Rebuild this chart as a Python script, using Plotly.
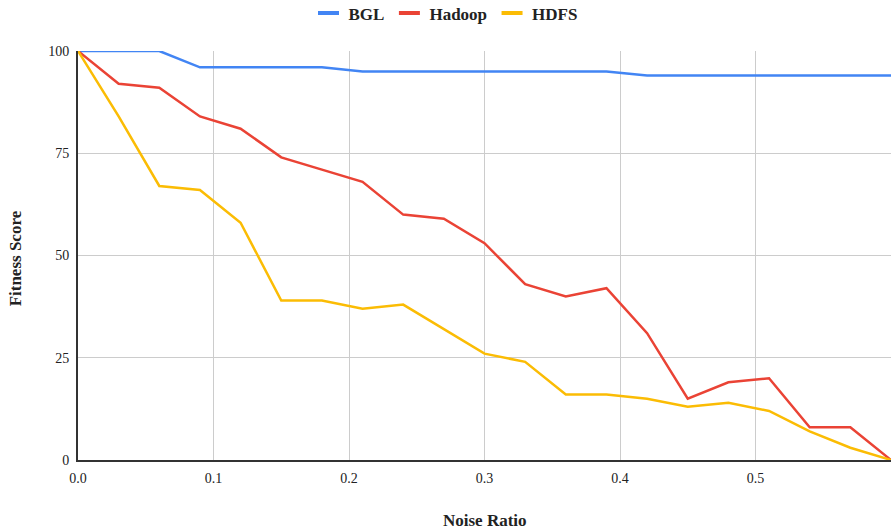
import plotly.graph_objects as go

noise_ratio = [0.0, 0.03, 0.06, 0.09, 0.12, 0.15, 0.18, 0.21, 0.24, 0.27, 0.30,
               0.33, 0.36, 0.39, 0.42, 0.45, 0.48, 0.51, 0.54, 0.57, 0.60]
bgl = [100, 100, 100, 96, 96, 96, 96, 95, 95, 95, 95, 95, 95, 95, 94, 94, 94, 94, 94, 94, 94]
hadoop = [100, 92, 91, 84, 81, 74, 71, 68, 60, 59, 53, 43, 40, 42, 31, 15, 19, 20, 8, 8, 0]
hdfs = [100, 84, 67, 66, 58, 39, 39, 37, 38, 32, 26, 24, 16, 16, 15, 13, 14, 12, 7, 3, 0]

series_names = ["BGL", "Hadoop", "HDFS"]
colors = ["#4285F4", "#EA4335", "#FBBC04"]
x_ticks = [0.0, 0.1, 0.2, 0.3, 0.4, 0.5]
x_tick_labels = ["0.0", "0.1", "0.2", "0.3", "0.4", "0.5"]
y_ticks = [0, 25, 50, 75, 100]

font = "Liberation Serif"
fig = go.Figure()
for name, vals, c in zip(series_names, [bgl, hadoop, hdfs], colors):
    fig.add_trace(go.Scatter(x=noise_ratio, y=vals, mode="lines", name=name,
                             line=dict(color=c, width=2.5), showlegend=False))
# legend entries drawn as short thick bars like the reference
for name, c in zip(series_names, colors):
    fig.add_trace(go.Scatter(x=[None], y=[None], mode="markers", name=name,
                             marker=dict(symbol="line-ew", size=15, color=c,
                                         line=dict(width=4, color=c))))

fig.update_layout(
    width=891, height=531,
    margin=dict(l=78, r=0, t=51, b=71, autoexpand=False),
    paper_bgcolor="white", plot_bgcolor="white",
    font=dict(family=font, size=14, color="#222222"),
    legend=dict(orientation="h", x=0.5, xref="container", xanchor="center",
                y=1.092, yanchor="middle",
                font=dict(family=font, size=17, color="#222222", weight="bold"),
                tracegroupgap=0),
    showlegend=True,
    annotations=[
        dict(text="<b>Noise Ratio</b>", x=0.5, xref="paper", y=-0.149, yref="paper",
             yanchor="middle", showarrow=False, font=dict(size=17)),
        dict(text="<b>Fitness Score</b>", x=-0.0775, xref="paper", y=0.493, yref="paper",
             xanchor="center", yanchor="middle", textangle=-90, showarrow=False,
             font=dict(size=17)),
    ],
)
fig.update_xaxes(range=[0, 0.6], tickvals=x_ticks, ticktext=x_tick_labels,
                 showgrid=True, gridcolor="#cccccc", gridwidth=1,
                 showline=True, linecolor="#333333", linewidth=2,
                 zeroline=False, ticks="", tickfont=dict(size=14),
                 ticklabelstandoff=4, automargin=False)
fig.update_yaxes(range=[0, 100], tickvals=y_ticks,
                 showgrid=True, gridcolor="#cccccc", gridwidth=1,
                 showline=True, linecolor="#333333", linewidth=2,
                 zeroline=False, ticks="", tickfont=dict(size=14),
                 ticklabelstandoff=4, automargin=False)

# remove the page's default body margin so the figure fills the window exactly
fig.write_html("out.html", config={"displayModeBar": False},
               post_script="document.body.style.margin='0';document.body.style.overflow='hidden';")
